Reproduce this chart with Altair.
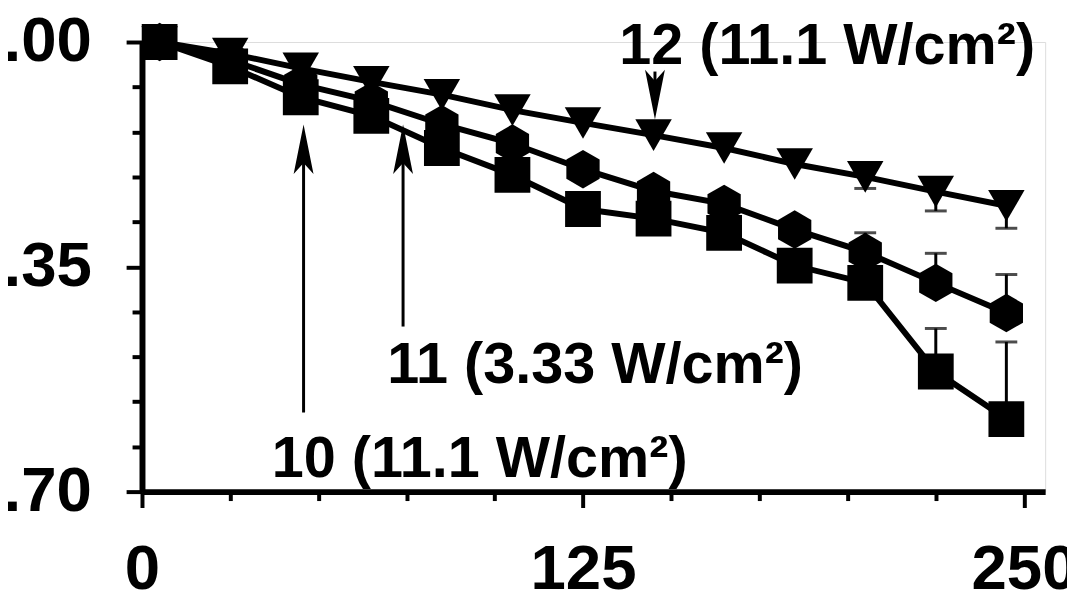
import altair as alt
import pandas as pd

# ---- data ----
times = [5, 25, 45, 65, 85, 105, 125, 145, 165, 185, 205, 225, 245]
s10 = [0, -0.038, -0.086, -0.115, -0.165, -0.207, -0.260, -0.275, -0.297, -0.348, -0.375, -0.513, -0.587]
s11 = [0, -0.028, -0.066, -0.092, -0.128, -0.158, -0.198, -0.232, -0.252, -0.292, -0.327, -0.375, -0.422]
s12 = [0, -0.018, -0.041, -0.062, -0.082, -0.106, -0.126, -0.145, -0.165, -0.190, -0.210, -0.233, -0.255]
err10 = [0, 0, 0, 0, 0, 0, 0, 0, 0, 0, 0, 0.067, 0.120]
err11 = [0, 0, 0, 0, 0, 0, 0, 0, 0, 0, 0.030, 0.046, 0.060]
err12 = [0, 0, 0, 0, 0, 0, 0, 0, 0, 0, -0.018, -0.030, -0.035]
series_names = ["10", "11", "12"]

x_ticks = [0, 25, 50, 75, 100, 125, 150, 175, 200, 225, 250]
y_ticks = [0.0, -0.07, -0.14, -0.21, -0.28, -0.35, -0.42, -0.49, -0.56, -0.63, -0.70]

ann_text = ["12 (11.1 W/cm²)", "11 (3.33 W/cm²)", "10 (11.1 W/cm²)"]
ann_x = [135.3, 69.5, 36.8]
ann_y = [-0.035, -0.531, -0.678]

# arrows: shaft from tail to head centre
arr_x = [145.4, 74.0, 45.8]
arr_tail = [-0.046, -0.443, -0.577]
arr_headc = [-0.082, -0.167, -0.167]
arr_dir = ["down", "up", "up"]

# ---- tables ----
rows = []
for name, vals, errs in zip(series_names, [s10, s11, s12], [err10, err11, err12]):
    for t, v, e in zip(times, vals, errs):
        rows.append({"series": name, "t": t, "v": v, "e": e, "vend": v + e})
df = pd.DataFrame(rows)
df_err = df[df["e"] != 0]

df_ann = pd.DataFrame({"text": ann_text, "x": ann_x, "y": ann_y})
df_arr = pd.DataFrame({"x": arr_x, "tail": arr_tail, "head": arr_headc, "dir": arr_dir})

hexagon = "M0,-1L0.866,-0.5L0.866,0.5L0,1L-0.866,0.5L-0.866,-0.5Z"
head_up = "M0,-1L0.4,1L0,0.55L-0.4,1Z"
head_down = "M0,1L0.4,-1L0,-0.55L-0.4,-1Z"

FONT = "Liberation Sans"

xscale = alt.Scale(domain=[0, 256], nice=False, zero=False)
yscale = alt.Scale(domain=[-0.70, 0.0], nice=False, zero=False)

xaxis = alt.Axis(
    values=x_ticks,
    labelExpr="datum.value % 125 === 0 ? datum.label : ''",
    title=None, grid=False,
    domainColor="black", domainWidth=6,
    tickColor="black", tickWidth=4,
    tickSize={"condition": {"test": "datum.value % 125 === 0", "value": 16}, "value": 9},
    labelFont=FONT, labelFontWeight="bold", labelFontSize=64, labelColor="black",
    labelPadding=31, labelFlush=False, labelOverlap=False,
)
yaxis = alt.Axis(
    values=y_ticks,
    labelExpr="abs(round(datum.value*100)) % 35 === 0 ? format(datum.value, '.2f') : ''",
    title=None, grid=False,
    domainColor="black", domainWidth=6,
    tickColor="black", tickWidth=4,
    tickSize={"condition": {"test": "abs(round(datum.value*100)) % 35 === 0", "value": 16}, "value": 10},
    labelFont=FONT, labelFontWeight="bold", labelFontSize=64, labelColor="black",
    labelPadding=35, labelFlush=False, labelOverlap=False, labelBaseline="middle",
)

base = alt.Chart(df)

lines = base.mark_line(color="black", strokeWidth=6).encode(
    x=alt.X("t:Q", scale=xscale, axis=xaxis),
    y=alt.Y("v:Q", scale=yscale, axis=yaxis),
    detail="series:N",
)

err_rule = alt.Chart(df_err).mark_rule(color="black", strokeWidth=3).encode(
    x="t:Q", y="v:Q", y2="vend:Q"
)
err_cap = alt.Chart(df_err).mark_tick(color="black", orient="horizontal", size=22, thickness=3).encode(
    x="t:Q", y="vend:Q"
)

marker_specs = [("10", "square", 1300), ("11", hexagon, 1500), ("12", "triangle-down", 1350)]
point_layers = []
for name, shp, sz in marker_specs:
    point_layers.append(
        base.transform_filter(alt.datum.series == name)
        .mark_point(filled=True, opacity=1, color="black", shape=shp, size=sz)
        .encode(x="t:Q", y="v:Q")
    )

shafts = alt.Chart(df_arr).mark_rule(color="black", strokeWidth=3).encode(
    x="x:Q", y="tail:Q", y2="head:Q"
)
head_layers = []
for d, shp in [("up", head_up), ("down", head_down)]:
    head_layers.append(
        alt.Chart(df_arr).transform_filter(alt.datum.dir == d)
        .mark_point(filled=True, opacity=1, color="black", size=2500, shape=shp)
        .encode(x="x:Q", y="head:Q")
    )

texts = alt.Chart(df_ann).mark_text(
    font=FONT, fontWeight="bold", fontSize=58, align="left", baseline="alphabetic", color="black"
).encode(x="x:Q", y="y:Q", text="text:N")

chart = alt.layer(lines, err_rule, err_cap, *point_layers, shafts, *head_layers, texts).properties(
    width=910, height=453,
    autosize=alt.AutoSizeParams(type="none"),
    padding={"left": 135, "top": 32, "right": 22, "bottom": 115},
).configure_view(stroke=None).configure(background="white")

chart.save("out.html", embed_options={"renderer": "svg", "actions": False})
